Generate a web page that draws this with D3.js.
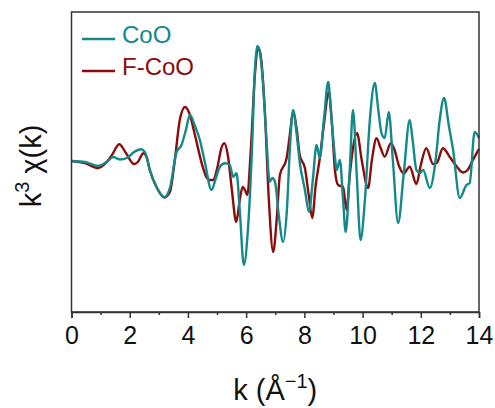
<!DOCTYPE html>
<html>
<head>
<meta charset="utf-8">
<script src="https://cdn.jsdelivr.net/npm/d3@7"></script>
<style>
  html, body { margin: 0; padding: 0; background: #fff; }
  svg { display: block; font-family: "Liberation Sans", Arial, sans-serif; }
</style>
</head>
<body>
<svg id="chart" width="495" height="408"></svg>
<script>
// k-space EXAFS oscillations, k^3-weighted
const kCoO = [0, 0.46, 0.91, 1.21, 1.43, 1.66, 1.9, 2.15, 2.38, 2.52, 2.69, 2.92, 3.19, 3.38, 3.61, 3.78, 3.93, 4.07, 4.24, 4.41, 4.58, 4.81, 4.96, 5.1, 5.27, 5.44, 5.55, 5.67, 5.78, 5.92, 6.06, 6.2, 6.3, 6.38, 6.47, 6.57, 6.68, 6.81, 6.9, 6.99, 7.12, 7.27, 7.4, 7.5, 7.61, 7.74, 7.84, 8.02, 8.16, 8.29, 8.42, 8.53, 8.67, 8.82, 8.91, 9.05, 9.11, 9.22, 9.33, 9.42, 9.56, 9.67, 9.8, 9.93, 10.08, 10.25, 10.42, 10.54, 10.65, 10.76, 10.9, 11.04, 11.22, 11.41, 11.62, 11.72, 11.85, 11.97, 12.08, 12.31, 12.51, 12.65, 12.8, 12.96, 13.11, 13.34, 13.57, 13.68, 13.85, 14.0];
const chiCoO = [0.1, 0.0, -0.4, 0.0, 0.5, 0.25, 0.4, 1.0, 1.27, 1.0, -0.8, -2.5, -3.5, -2.6, 1.0, 1.7, 3.2, 4.7, 3.6, 2.2, 0.0, -2.8, -1.6, -0.47, -0.13, -0.3, -1.47, -1.13, -4.8, -10.3, -6.8, 1.2, 9.2, 11.6, 11.0, 8.2, 3.2, -1.97, -1.6, -1.97, -5.3, -8.0, -4.8, 1.2, 5.2, 2.7, 0.0, -2.8, -5.0, -1.8, 1.7, 0.4, 4.2, 8.0, 5.2, 0.53, -0.8, 0.2, -3.8, -7.0, -0.8, 5.2, -1.3, -7.8, -3.8, 4.2, 7.9, 5.2, 2.9, 2.4, 5.0, 0.2, -6.1, -1.3, 4.2, 2.2, -0.8, -1.1, -0.8, -2.6, 0.2, 4.2, 6.4, 3.7, 1.2, -3.6, -2.3, -2.1, 3.0, 2.4];

const kFCoO = [0, 0.46, 0.91, 1.21, 1.39, 1.64, 1.87, 2.15, 2.28, 2.47, 2.59, 2.69, 2.92, 3.19, 3.38, 3.55, 3.72, 3.9, 4.07, 4.24, 4.52, 4.65, 4.75, 4.86, 5.03, 5.13, 5.25, 5.37, 5.51, 5.66, 5.78, 5.88, 5.96, 6.04, 6.16, 6.3, 6.42, 6.52, 6.64, 6.78, 6.93, 7.06, 7.16, 7.39, 7.5, 7.61, 7.74, 7.84, 8.02, 8.15, 8.27, 8.39, 8.53, 8.67, 8.84, 8.95, 9.05, 9.16, 9.33, 9.45, 9.56, 9.81, 9.97, 10.19, 10.32, 10.48, 10.62, 10.76, 10.97, 11.1, 11.24, 11.41, 11.62, 11.85, 12.0, 12.19, 12.42, 12.55, 12.76, 12.99, 13.22, 13.45, 13.61, 13.79, 14.0];
const chiFCoO = [0.1, -0.1, -0.6, 0.0, 0.7, 1.77, 0.9, -0.2, 0.0, 0.87, 0.4, -0.8, -2.5, -3.55, -3.0, 0.2, 4.2, 5.5, 4.7, 2.7, -0.6, -1.6, -1.8, -1.8, -0.3, 1.2, 1.87, 0.7, -2.8, -6.0, -3.8, -2.5, -2.8, -3.3, 1.2, 8.7, 11.45, 10.2, 5.2, -3.8, -9.0, -5.3, -1.3, 0.37, 2.7, 5.0, 3.2, 0.7, -0.63, -3.3, -5.6, -2.3, 0.37, 3.7, 7.0, 3.7, -0.8, -2.3, -2.5, -4.8, -1.3, 2.87, 0.2, -2.6, 0.2, 2.37, 1.4, 0.53, 1.87, 1.2, -0.3, -1.13, -0.47, -2.2, -0.3, 1.37, -0.2, -0.1, 1.37, 0.53, -0.4, -1.05, -0.8, 0.2, 1.3];

const seriesNames = ["CoO", "F-CoO"];
const seriesColors = ["#13898a", "#8a0c0c"];
const xTicks = [0, 2, 4, 6, 8, 10, 12, 14];
const xMinorTicks = [1, 3, 5, 7, 9, 11, 13];

const svg = d3.select("#chart");
const margin = { left: 71.5, right: 16, top: 12, bottom: 96 };
const W = 495, H = 408;

const x = d3.scaleLinear().domain([0, 14]).range([margin.left, W - margin.right]);
const y = d3.scaleLinear().domain([-15, 15]).range([H - margin.bottom, margin.top]);

const series = [
  { name: seriesNames[0], color: seriesColors[0], pts: kCoO.map((k, i) => [k, chiCoO[i]]) },
  { name: seriesNames[1], color: seriesColors[1], pts: kFCoO.map((k, i) => [k, chiFCoO[i]]) }
];

const line = d3.line()
  .x(d => x(d[0]))
  .y(d => y(d[1]))
  .curve(d3.curveMonotoneX);

// curves: F-CoO below, CoO on top
[series[1], series[0]].forEach(s => {
  svg.append("path")
    .datum(s.pts)
    .attr("fill", "none")
    .attr("stroke", s.color)
    .attr("stroke-width", 2.4)
    .attr("stroke-linejoin", "round")
    .attr("d", line);
});

// frame
svg.append("rect")
  .attr("x", x(0)).attr("y", y(15))
  .attr("width", x(14) - x(0)).attr("height", y(-15) - y(15))
  .attr("fill", "none")
  .attr("stroke", "#333")
  .attr("stroke-width", 1.5);

// bottom axis with major and minor ticks
const xAxis = d3.axisBottom(x)
  .tickValues(xTicks)
  .tickFormat(d3.format("d"))
  .tickSize(6)
  .tickPadding(8);
const gx = svg.append("g")
  .attr("transform", `translate(0,${y(-15)})`)
  .call(xAxis);
gx.select(".domain").attr("stroke", "#333").attr("stroke-width", 1.5);
gx.selectAll(".tick line").attr("stroke", "#333").attr("stroke-width", 1.5);
gx.selectAll(".tick text")
  .attr("font-family", "'Liberation Sans', Arial, sans-serif")
  .attr("font-size", 25)
  .attr("fill", "#111");

svg.append("g")
  .attr("transform", `translate(0,${y(-15)})`)
  .call(d3.axisBottom(x).tickValues(xMinorTicks).tickSize(3).tickFormat(""))
  .call(g => g.select(".domain").remove())
  .selectAll(".tick line").attr("stroke", "#333").attr("stroke-width", 1.5);

// axis titles
const xt = svg.append("text")
  .attr("x", (x(0) + x(14)) / 2)
  .attr("y", 400)
  .attr("text-anchor", "middle")
  .attr("font-size", 29)
  .attr("fill", "#111");
xt.append("tspan").text("k (Å");
xt.append("tspan").attr("dy", -12).attr("font-size", 20).text("−1");
xt.append("tspan").attr("dy", 12).text(")");

const yt = svg.append("text")
  .attr("transform", `translate(41,166) rotate(-90)`)
  .attr("text-anchor", "middle")
  .attr("font-size", 29)
  .attr("fill", "#111");
yt.append("tspan").text("k");
yt.append("tspan").attr("dy", -12).attr("font-size", 20).text("3");
yt.append("tspan").attr("dy", 12).text(" χ(k)");

// legend
const legend = svg.append("g");
series.forEach((s, i) => {
  const ly = 39 + i * 32;
  legend.append("line")
    .attr("x1", 82).attr("x2", 115)
    .attr("y1", ly).attr("y2", ly)
    .attr("stroke", s.color)
    .attr("stroke-width", 2.4);
  legend.append("text")
    .attr("x", 122).attr("y", ly + 4)
    .attr("font-size", 24)
    .attr("fill", s.color)
    .text(s.name);
});
</script>
</body>
</html>
